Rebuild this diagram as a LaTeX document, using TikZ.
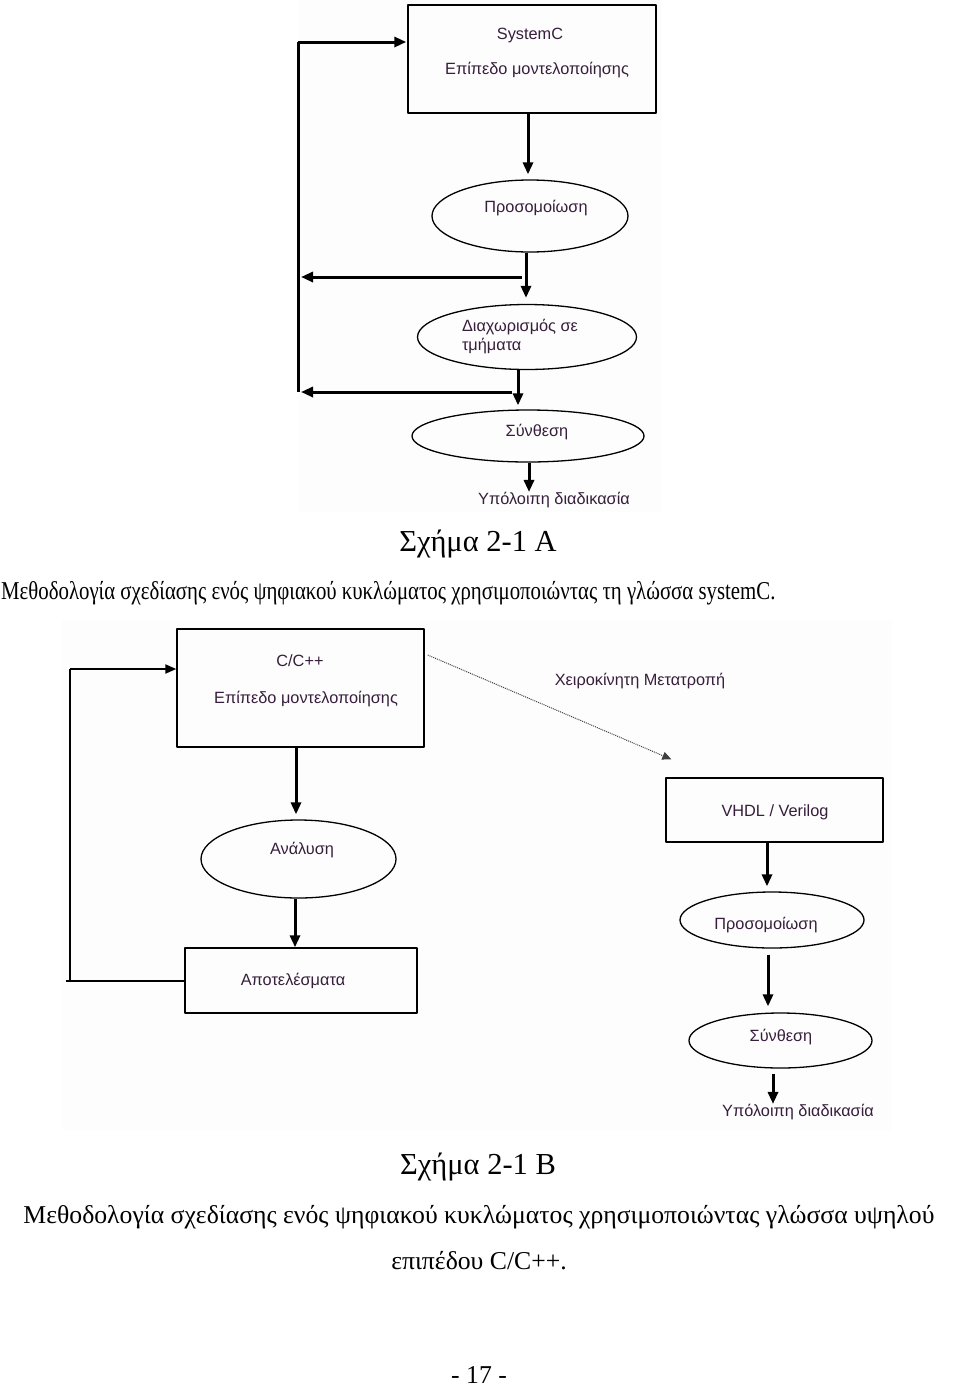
\documentclass[tikz,border=0pt]{standalone}
\usepackage{fontspec}
\setmainfont{Liberation Serif}
\newfontfamily\diagfont{Liberation Sans}
\newfontfamily\narrowserif[FakeStretch=0.81]{Liberation Serif}
\usetikzlibrary{arrows.meta,shapes.geometric}
\definecolor{inkp}{RGB}{55,30,60}
\definecolor{bgpale}{RGB}{253,253,253}

\tikzset{
  blk/.style={draw, line width=1.4pt, inner sep=0pt},
  ell/.style={draw, ellipse, line width=1.3pt, inner sep=0pt},
  lbl/.style={font=\diagfont\fontsize{16.3}{19}\selectfont, text=inkp, inner sep=0pt},
  captxt/.style={font=\fontsize{25.7}{30}\selectfont, inner sep=0pt},
  titletxt/.style={font=\fontsize{30.5}{35}\selectfont, inner sep=0pt},
  arr/.style={-{Triangle[length=12pt,width=10pt]}, line width=3pt},
  arrthin/.style={-{Triangle[length=11pt,width=9pt]}, line width=2pt},
  bus/.style={line width=3pt},
  busthin/.style={line width=2pt},
  conv/.style={-{Triangle[length=9pt,width=8pt]}, line width=1pt, black!75, densely dotted},
}

\begin{document}
\begin{tikzpicture}[x=1pt, y=-1pt, line join=round]
  \useasboundingbox (0,0) rectangle (960,1390);
  \fill[bgpale] (298,0) rectangle (662,512);
  \fill[bgpale] (62,620) rectangle (892,1130);

  % Sxima 2-1 A
  \node[blk, minimum width=248pt, minimum height=108pt] (sysc) at (532,59) {};
  \node[lbl] (syscT) at (530,35) {SystemC};
  \node[lbl] (syscM) at (537,70) {Επίπεδο μοντελοποίησης};
  \node[ell, minimum width=196pt, minimum height=72pt] (simA) at (530,216) {};
  \node[lbl] (simAT) at (536,208) {Προσομοίωση};
  \node[ell, minimum width=219pt, minimum height=65pt] (part) at (527,337) {};
  \node[lbl, align=left] (partT) at (520,337) {Διαχωρισμός σε\\τμήματα};
  \node[ell, minimum width=232pt, minimum height=52pt] (synA) at (528,436) {};
  \node[lbl] (synAT) at (537,432) {Σύνθεση};
  \node[lbl] (restA) at (554,500) {Υπόλοιπη διαδικασία};

  \draw[arr, shorten >=5pt] ([xshift=-4pt]sysc.south) -- ([xshift=-2pt]simA.north);
  \draw[arr, shorten >=6pt] ([xshift=-4pt]simA.south) -- ([xshift=-1pt]part.north);
  \draw[arr, shorten >=4pt] ([xshift=-9pt]part.south) -- ([xshift=-10pt]synA.north);
  \draw[arr] ([xshift=1pt]synA.south) -- ([xshift=1pt]synA.south |- restA.north);

  % feedback A
  \coordinate (busT) at (298,42);
  \coordinate (busB) at (298,392);
  \coordinate (tap1) at (522,277);
  \coordinate (tap2) at (512,392);
  \draw[bus] (busB) -- (busT);
  \draw[arr, shorten >=1pt] (busT) -- (sysc.west |- busT);
  \draw[arr, shorten >=3pt] (tap1) -- (tap1 -| busT);
  \draw[arr, shorten >=3pt] (tap2) -- (busB);

  \node[titletxt] (capA) at (478,544) {Σχήμα 2-1 Α};
  \node[captxt, font=\narrowserif\fontsize{25.7}{30}\selectfont, anchor=west] (descA) at (1,593) {Μεθοδολογία σχεδίασης ενός ψηφιακού κυκλώματος χρησιμοποιώντας τη γλώσσα systemC.};

  % Sxima 2-1 B
  \node[blk, minimum width=247pt, minimum height=118pt] (cpp) at (300.5,688) {};
  \node[lbl] (cppT) at (300,661) {C/C++};
  \node[lbl] (cppM) at (306,699) {Επίπεδο μοντελοποίησης};
  \node[ell, minimum width=195pt, minimum height=78pt] (ana) at (298.5,859) {};
  \node[lbl] (anaT) at (302,850) {Ανάλυση};
  \node[blk, minimum width=232pt, minimum height=65pt] (res) at (301,980.5) {};
  \node[lbl] (resT) at (293,981) {Αποτελέσματα};
  \node[blk, minimum width=217pt, minimum height=64pt] (hdl) at (774.5,810) {};
  \node[lbl] (hdlT) at (775,812) {VHDL / Verilog};
  \node[ell, minimum width=184pt, minimum height=56pt] (simB) at (772,920) {};
  \node[lbl] (simBT) at (766,925) {Προσομοίωση};
  \node[ell, minimum width=183pt, minimum height=55pt] (synB) at (780.5,1040.5) {};
  \node[lbl] (synBT) at (781,1037) {Σύνθεση};
  \node[lbl] (restB) at (798,1112) {Υπόλοιπη διαδικασία};
  \node[lbl] (manT) at (640,681) {Χειροκίνητη Μετατροπή};

  \draw[arr, shorten >=5pt] ([xshift=-4.5pt]cpp.south) -- ([xshift=-2.5pt]ana.north);
  \draw[arr] ([xshift=-3.5pt]ana.south) -- ([xshift=-6pt]res.north);
  \draw[arr, shorten >=5pt] ([xshift=-7.5pt]hdl.south) -- ([xshift=-5pt]simB.north);
  \draw[arr, shorten <=6pt, shorten >=6pt] ([xshift=-4pt]simB.south) -- ([xshift=-12.5pt]synB.north);
  \draw[arr, shorten <=5pt] ([xshift=-7.5pt]synB.south) -- ([xshift=-7.5pt]synB.south |- restB.north);

  % feedback B
  \coordinate (loopB) at (70,981);
  \coordinate (loopT) at (70,669);
  \draw[busthin] (res.west |- loopB) -- ([xshift=-4pt]loopB);
  \draw[busthin] (loopB) -- (loopT);
  \draw[arrthin] (loopT) -- (cpp.west |- loopT);

  % manual conversion
  \draw[conv] ([xshift=3pt,yshift=33pt]cpp.east) -- ([xshift=6pt,yshift=18pt]hdl.north west);

  \node[titletxt] (capB) at (478,1167) {Σχήμα 2-1 Β};
  \node[captxt] (descB) at (479,1217) {Μεθοδολογία σχεδίασης ενός ψηφιακού κυκλώματος χρησιμοποιώντας γλώσσα υψηλού};
  \node[captxt] (descB2) at (479,1261) {επιπέδου C/C++.};
  \node[captxt] (pg) at (479,1375) {- 17 -};
\end{tikzpicture}
\end{document}
